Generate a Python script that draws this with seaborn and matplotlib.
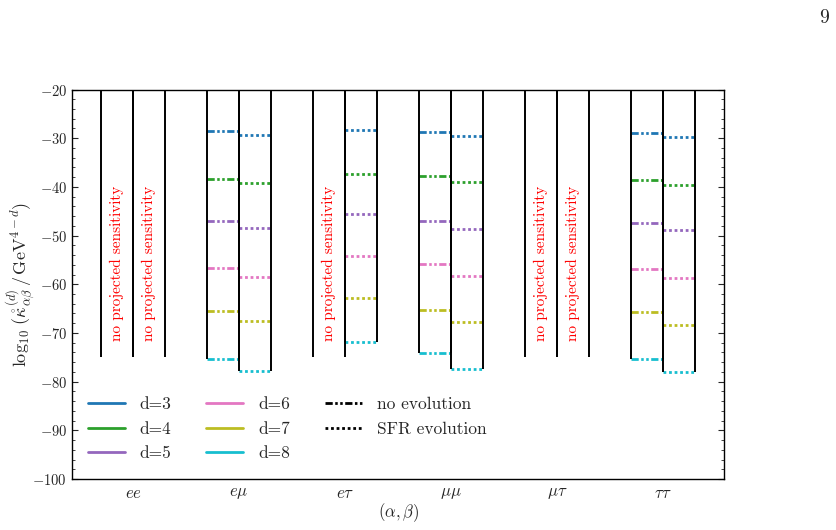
import numpy as np
import pandas as pd
import matplotlib
matplotlib.use("Agg")
import matplotlib.pyplot as plt
from matplotlib.lines import Line2D
from matplotlib.ticker import MultipleLocator
import seaborn as sns

# ---------------- data ----------------
pairs = ["ee", "eμ", "eτ", "μμ", "μτ", "ττ"]
pair_labels = [r"$ee$", r"$e\mu$", r"$e\tau$", r"$\mu\mu$", r"$\mu\tau$", r"$\tau\tau$"]
dims = [3, 4, 5, 6, 7, 8]
dim_colors = ["#1f77b4", "#2ca02c", "#9467bd", "#e377c2", "#bcbd22", "#17becf"]

# log10 of the coefficient, None = no projected sensitivity
no_evo = {
    "ee": None,
    "eμ": [-28.6, -38.4, -47.1, -56.6, -65.4, -75.3],
    "eτ": None,
    "μμ": [-28.7, -37.7, -47.1, -55.8, -65.2, -74.2],
    "μτ": None,
    "ττ": [-28.9, -38.5, -47.5, -56.8, -65.7, -75.3],
}
sfr_evo = {
    "ee": None,
    "eμ": [-29.4, -39.3, -48.4, -58.6, -67.6, -77.8],
    "eτ": [-28.4, -37.3, -45.5, -54.3, -62.8, -71.8],
    "μμ": [-29.6, -39.0, -48.6, -58.3, -67.8, -77.4],
    "μτ": None,
    "ττ": [-29.7, -39.6, -48.9, -58.7, -68.4, -78.0],
}
no_sens_floor = -75.0
y_top = -20.0

# ---------------- style ----------------
sns.set_style("ticks")
plt.rcParams["font.family"] = "serif"
plt.rcParams["font.serif"] = ["cmr10", "DejaVu Serif"]
plt.rcParams["mathtext.fontset"] = "cm"
plt.rcParams["axes.formatter.use_mathtext"] = True
plt.rcParams["axes.unicode_minus"] = True

fig = plt.figure(figsize=(8.37, 5.30), dpi=100)
ax = fig.add_axes([72 / 837, 1 - 479 / 530, (724.3 - 72) / 837, (479 - 89.5) / 530])

half = 0.3
rows = []
seg = 0
for i, p in enumerate(pairs):
    for kind, table, x0, x1 in (("no evolution", no_evo, i - half, i),
                                ("SFR evolution", sfr_evo, i, i + half)):
        vals = table[p]
        if vals is None:
            continue
        for d, v in zip(dims, vals):
            rows.append(dict(x=x0, y=v, d=d, evo=kind, seg=seg))
            rows.append(dict(x=x1, y=v, d=d, evo=kind, seg=seg))
            seg += 1
df = pd.DataFrame(rows)

palette = dict(zip(dims, dim_colors))
dash_no = (2.6, 0.9, 0.9, 0.9, 0.9, 0.9)
dash_sfr = (1.0, 1.0)
sns.lineplot(data=df, x="x", y="y", hue="d", style="evo", units="seg",
             estimator=None, sort=False, palette=palette,
             dashes={"no evolution": dash_no, "SFR evolution": dash_sfr},
             linewidth=2.0, legend=False, ax=ax)

# black column outlines
for i, p in enumerate(pairs):
    b_no = min(no_evo[p]) if no_evo[p] is not None else no_sens_floor
    b_sfr = min(sfr_evo[p]) if sfr_evo[p] is not None else no_sens_floor
    ax.vlines([i - half, i], b_no, y_top, color="black", lw=1.4, zorder=3)
    ax.vlines([i, i + half], b_sfr, y_top, color="black", lw=1.4, zorder=3)
    if no_evo[p] is None:
        ax.text(i - half / 2, -55.8, "no projected sensitivity", color="red",
                rotation=90, ha="center", va="center", fontsize=11)
    if sfr_evo[p] is None:
        ax.text(i + half / 2, -55.8, "no projected sensitivity", color="red",
                rotation=90, ha="center", va="center", fontsize=11)

ax.set_xlim(-0.575, 5.575)
ax.set_ylim(-100, -20)
ax.set_xticks(range(len(pairs)))
ax.set_xticklabels(pair_labels, fontsize=12)
ax.tick_params(axis="x", length=0, pad=5)
ax.yaxis.set_major_locator(MultipleLocator(10))
ax.yaxis.set_minor_locator(MultipleLocator(2))
ax.tick_params(axis="y", which="both", direction="in", left=True, right=True, labelsize=10.5)
ax.tick_params(axis="y", which="major", length=4, width=0.8)
ax.tick_params(axis="y", which="minor", length=2.2, width=0.6)
for s in ax.spines.values():
    s.set_linewidth(1.0)
    s.set_color("black")

ax.set_xlabel(r"$(\alpha,\beta)$", fontsize=12, labelpad=0)
ax.set_ylabel(r"$\log_{10}\,(\mathring{\kappa}^{(d)}_{\alpha\beta}\,/\,\mathrm{GeV}^{4-d})$",
              fontsize=13)
ax.yaxis.set_label_coords(-0.052, 0.5)

handles = [Line2D([], [], color=c, lw=2.0) for c in dim_colors]
labels = [f"d={d}" for d in dims]
handles += [Line2D([], [], color="black", lw=2.0, dashes=dash_no),
            Line2D([], [], color="black", lw=2.0, dashes=dash_sfr)]
labels += ["no evolution", "SFR evolution"]
ax.legend(handles, labels, ncol=3, loc="lower left", bbox_to_anchor=(0.0, 0.005),
          frameon=False, fontsize=12.5, handlelength=2.13, handletextpad=0.86,
          columnspacing=2.0, labelspacing=0.53)

fig.text(824 / 837, 1 - 18 / 530, "9", fontsize=14, ha="center", va="center")

fig.savefig("out.png", dpi=100)
